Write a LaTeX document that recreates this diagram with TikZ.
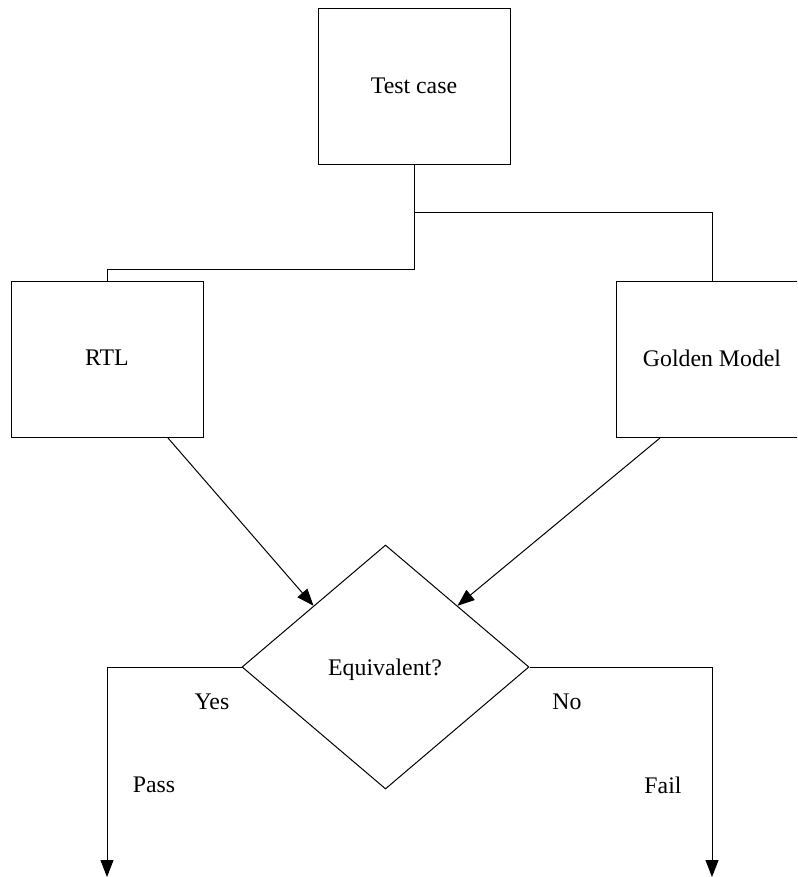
\documentclass[tikz,border=0pt]{standalone}
\usepackage{fontspec}
\setmainfont{Liberation Serif}
\usetikzlibrary{shapes.geometric,arrows.meta}
\begin{document}
\begin{tikzpicture}[x=1pt,y=-1pt,
  font=\fontsize{23.8}{28}\selectfont,
  line/.style={draw=black,line width=1pt},
  box/.style={line,rectangle,minimum width=192pt,minimum height=156pt,inner sep=0pt,anchor=north west},
  dec/.style={line,diamond,minimum width=287pt,minimum height=244pt,inner sep=0pt},
  arr/.style={line,-{Triangle[length=17pt,width=13pt]}},
  lbl/.style={inner sep=0pt}]
\clip (0,0) rectangle (797,877);
\fill[white] (0,0) rectangle (797,877);
\node[box] (tc) at (318,8) {};
\node[lbl] (tct) at (414,86) {Test case};
\node[box] (rtl) at (11,281) {};
\node[lbl] (rtlt) at (107,358) {RTL};
\node[box] (gm) at (616,281) {};
\node[lbl] (gmt) at (712,358) {Golden Model};
\node[dec] (eq) at (385.5,667) {};
\node[lbl] (eqt) at (385,670) {Equivalent?};
\node[lbl] (yes) at (212,702) {Yes};
\node[lbl] (no) at (567,702) {No};
\node[lbl] (pass) at (154,785) {Pass};
\node[lbl] (fail) at (663,785) {Fail};
\coordinate (pe) at (107,877);
\coordinate (fe) at (712,877);
\draw[line] (tc.south) -- ++(0,48) -| (gm.north);
\draw[line] (tc.south) -- ++(0,104) -| (rtl.north);
\draw[arr] ([xshift=-36pt]rtl.south east) -- (eq.north west);
\draw[arr] ([xshift=44pt]gm.south west) -- (eq.north east);
\draw[arr] (eq.west) -| (pe);
\draw[arr] (eq.east) -| (fe);
\end{tikzpicture}
\end{document}
